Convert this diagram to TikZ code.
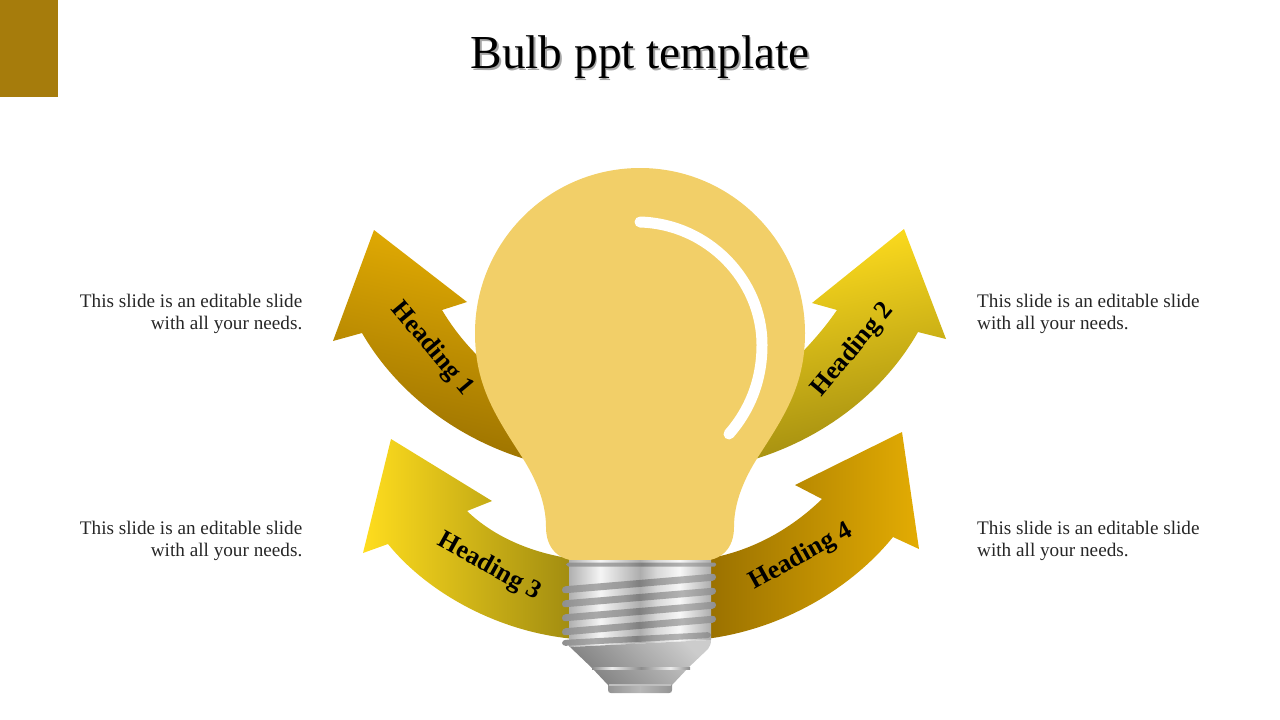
\documentclass[tikz,border=0pt]{standalone}
\usepackage{fontspec}
\setmainfont{Liberation Serif}
\usepackage{xcolor}
\definecolor{bulbyellow}{HTML}{F2CF68}
\definecolor{cornerbrown}{HTML}{A67C0C}
\definecolor{darkgold}{HTML}{997000}
\definecolor{lightgold}{HTML}{E3AC03}
\definecolor{darkolive}{HTML}{A08B10}
\definecolor{lightyellow}{HTML}{FFDD1E}
\pgfdeclarehorizontalshading{metalbody}{100bp}{
  rgb(0bp)=(.69,.69,.69); rgb(25bp)=(.69,.69,.69); rgb(36bp)=(.96,.96,.96); rgb(45bp)=(.78,.78,.78);
  rgb(50bp)=(.68,.68,.68); rgb(56bp)=(.85,.85,.85); rgb(64bp)=(.97,.97,.97); rgb(75bp)=(.68,.68,.68); rgb(100bp)=(.68,.68,.68)}
\pgfdeclarehorizontalshading{metalthread}{100bp}{
  rgb(0bp)=(.56,.56,.56); rgb(25bp)=(.56,.56,.56); rgb(36bp)=(.66,.66,.66); rgb(45bp)=(.60,.60,.60);
  rgb(50bp)=(.50,.50,.50); rgb(56bp)=(.62,.62,.62); rgb(64bp)=(.70,.70,.70); rgb(75bp)=(.56,.56,.56); rgb(100bp)=(.56,.56,.56)}
\pgfdeclarehorizontalshading{metalstrip}{100bp}{
  rgb(0bp)=(.55,.55,.55); rgb(25bp)=(.55,.55,.55); rgb(35bp)=(.93,.93,.93); rgb(50bp)=(.55,.55,.55);
  rgb(65bp)=(.93,.93,.93); rgb(75bp)=(.55,.55,.55); rgb(100bp)=(.55,.55,.55)}

\begin{document}
\begin{tikzpicture}[
    x=1pt, y=-1pt,
    heading/.style={font=\fontsize{26}{28}\selectfont\bfseries, text=black, inner sep=0pt},
    slidetext/.style={font=\fontsize{19.2}{22}\selectfont, text=black!85, inner sep=0pt},
    title/.style={font=\fontsize{47.3}{52}\selectfont, inner sep=0pt},
    thread/.style={shading=metalthread, rounded corners=3.4pt}
]
\useasboundingbox (0,0) rectangle (1280,720);
\fill[cornerbrown] (0,0) rectangle (58,97);

\node[title, text=black!35] (titleshadow) at (641.5,59) {Bulb ppt template};
\node[title, text=black] (title) at (640,57) {Bulb ppt template};

\shade[top color=lightgold, bottom color=darkgold, shading angle=-12]
  (374,230) -- (467,302) -- (442,310) .. controls (460,340) and (480,360) .. (510,385)
  -- (535,462) .. controls (455,440) and (395,390) .. (362,333) -- (333,341) -- cycle;
\shade[top color=lightyellow, bottom color=darkolive, shading angle=12]
  (904,229) -- (946,339) -- (918,332) .. controls (885,390) and (825,440) .. (745,462)
  -- (770,385) .. controls (800,355) and (820,335) .. (837,310) -- (812,303) -- cycle;
\shade[left color=lightyellow, right color=darkolive]
  (391,439) -- (492,501) -- (467,511) .. controls (495,538) and (535,554) .. (575,559)
  -- (575,639) .. controls (495,632) and (425,590) .. (388,544) -- (363,553) -- cycle;
\shade[left color=darkgold, right color=lightgold]
  (902,432) -- (919,549) -- (893,537) .. controls (850,590) and (780,630) .. (705,639)
  -- (705,559) .. controls (750,552) and (790,530) .. (822,499) -- (795,485) -- cycle;

\fill[bulbyellow] (640,168) .. controls (731,168) and (805,242) .. (805,333)
  .. controls (805,385) and (785,415) .. (758,457)
  .. controls (742,482) and (734,505) .. (734,527)
  .. controls (734,548) and (722,561) .. (700,561) -- (580,561)
  .. controls (558,561) and (546,548) .. (546,527)
  .. controls (546,505) and (538,482) .. (522,457)
  .. controls (495,415) and (475,385) .. (475,333)
  .. controls (475,242) and (549,168) .. (640,168) -- cycle;
\draw[white, line width=11pt, line cap=round] (640,222) .. controls (708,224) and (762,280) .. (762,345)
  .. controls (762,380) and (750,410) .. (729,434);

\shade[shading=metalbody] (569,560) -- (711,560) -- (711,640) -- (569,647) -- cycle;
\shade[top color=black!50, bottom color=black!20, shading angle=135]
  (570,647) -- (711,640) .. controls (711,644) and (710,646) .. (708,649) -- (688,668) -- (672,685) -- (608,685) -- (592,668) -- cycle;
\shade[shading=metalstrip] (592,667) rectangle (690,669.5);
\shade[left color=black!42, right color=black!42, middle color=black!28] (608,685) -- (672,685) -- (672,690)
  .. controls (672,692) and (671,693) .. (669,693) -- (611,693) .. controls (609,693) and (608,692) .. (608,690) -- cycle;
\fill[black!25] (609,684) rectangle (671,685.5);
\shade[thread, rounded corners=1.5pt] (566.5,562.5) rectangle (716,566.5);
\foreach \ya/\yb in {590/577, 604/591, 618/605, 632/619}
  \shade[thread] (562,\ya-3.5) -- (716,\yb-3.5) -- (716,\yb+3.5) -- (562,\ya+3.5) -- cycle;
\shade[thread] (562,640) -- (711,632) -- (711,638) -- (562,646) -- cycle;

\node[heading, rotate=-50] (headinga) at (432,349) {Heading 1};
\node[heading, rotate=50] (headingb) at (853,350) {Heading 2};
\node[heading, rotate=-29] (headingc) at (489,567) {Heading 3};
\node[heading, rotate=29] (headingd) at (801,557) {Heading 4};

\node[slidetext, align=right, anchor=east] (texta) at (302.5,314) {This slide is an editable slide\\with all your needs.};
\node[slidetext, align=left, anchor=west] (textb) at (977,314) {This slide is an editable slide\\with all your needs.};
\node[slidetext, align=right, anchor=east] (textc) at (302.5,541) {This slide is an editable slide\\with all your needs.};
\node[slidetext, align=left, anchor=west] (textd) at (977,541) {This slide is an editable slide\\with all your needs.};
\end{tikzpicture}
\end{document}
